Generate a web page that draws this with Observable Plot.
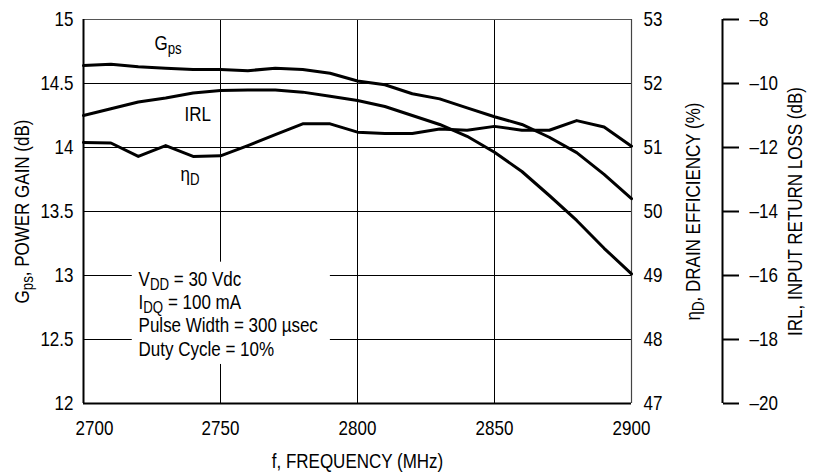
<!DOCTYPE html>
<html><head><meta charset="utf-8">
<script src="https://cdn.jsdelivr.net/npm/d3@7"></script>
<script src="https://cdn.jsdelivr.net/npm/@observablehq/plot@0.6"></script>
<style>
html,body{margin:0;padding:0;background:#fff}
</style>
</head><body><div id="chart"></div>
<script>
// ---- data ----
const freq = [2700,2710,2720,2730,2740,2750,2760,2770,2780,2790,2800,2810,2820,2830,2840,2850,2860,2870,2880,2890,2900];
const gpsDb = [14.64,14.65,14.63,14.62,14.61,14.61,14.60,14.62,14.61,14.58,14.52,14.49,14.42,14.38,14.31,14.24,14.18,14.08,13.96,13.79,13.60];
const irlDb = [-11.0,-10.79,-10.58,-10.45,-10.30,-10.22,-10.20,-10.20,-10.27,-10.40,-10.53,-10.72,-11.0,-11.28,-11.65,-12.15,-12.75,-13.5,-14.28,-15.15,-15.95];
const etaPct = [51.08,51.07,50.86,51.03,50.86,50.87,51.03,51.20,51.37,51.37,51.24,51.22,51.22,51.29,51.27,51.33,51.27,51.27,51.42,51.32,51.02];

const xTicks = [2700,2750,2800,2850,2900];
const gpsTicks = [12,12.5,13,13.5,14,14.5,15];
const etaTicks = [47,48,49,50,51,52,53];
const irlTicks = [-20,-18,-16,-14,-12,-10,-8];

const curveLabels = [
  {text:"G{ps}", f:2725.9, v:14.758},
  {text:"IRL", f:2736.9, v:14.21},
  {text:"η{D}", f:2735.4, v:13.742}
];
const noteLines = ["V{DD} = 30 Vdc","I{DQ} = 100 mA","Pulse Width = 300 µsec","Duty Cycle = 10%"];
const note = {f:2720.1, v:12.375, box:{f1:2717.8, f2:2790.1, v1:12.305, v2:13.104}};

// ---- map secondary axes onto the Gps (left) scale ----
const etaToG = e => 12 + (e - 47) / 2;
const gToEta = g => Math.round(47 + (g - 12) * 2);
const irlToG = r => 12 + (r + 20) / 4;
const gToIrl = g => Math.round(-20 + (g - 12) * 4);

const rows = freq.map((f, i) => ({f, gps: gpsDb[i], eta: etaToG(etaPct[i]), irl: irlToG(irlDb[i])}));

const FONT = "'Liberation Sans',Arial,sans-serif";
const FS = 20;
const NARROW = 0.85;

const chart = Plot.plot({
  width: 818, height: 476,
  marginLeft: 83, marginRight: 187, marginTop: 19, marginBottom: 73,
  x: {domain: [2700, 2900]},
  y: {domain: [12, 15]},
  style: {fontFamily: FONT, fontSize: FS + "px", color: "#000", background: "#fff", overflow: "visible"},
  marks: [
    Plot.gridX(xTicks.slice(1, -1), {stroke: "#000", strokeOpacity: 1, strokeWidth: 1}),
    Plot.gridY(gpsTicks.slice(1, -1), {stroke: "#000", strokeOpacity: 1, strokeWidth: 1}),
    Plot.rect([note.box], {x1: "f1", x2: "f2", y1: "v1", y2: "v2", fill: "#fff"}),
    Plot.ruleY([15], {stroke: "#555", strokeWidth: 1}),
    Plot.ruleX([2900], {stroke: "#444", strokeWidth: 1.2}),
    Plot.ruleX([2700], {stroke: "#000", strokeWidth: 2}),
    Plot.ruleY([12], {stroke: "#000", strokeWidth: 2}),
    Plot.line(rows, {x: "f", y: "gps", stroke: "#000", strokeWidth: 3, strokeLinejoin: "round"}),
    Plot.line(rows, {x: "f", y: "irl", stroke: "#000", strokeWidth: 3, strokeLinejoin: "round"}),
    Plot.line(rows, {x: "f", y: "eta", stroke: "#000", strokeWidth: 3, strokeLinejoin: "round"}),
    // left axis
    Plot.axisY(gpsTicks, {anchor: "left", tickSize: 0, tickPadding: 10, fontSize: FS, label: null, tickFormat: d => String(d)}),
    // bottom axis
    Plot.axisX(xTicks.slice(1), {anchor: "bottom", tickSize: 0, tickPadding: 17, fontSize: FS, label: null, tickFormat: d => String(d)}),
    Plot.text(xTicks.slice(0, 1), {x: d => d, frameAnchor: "bottom", dy: 17, dx: 11, lineAnchor: "top", fontSize: FS, text: d => String(d)}),
    // right eta axis
    Plot.axisY(etaTicks.map(etaToG), {anchor: "right", tickSize: 0, tickPadding: 12, fontSize: FS, label: null, tickFormat: g => String(gToEta(g))}),
    // detached IRL axis
    Plot.ruleX([2900], {y1: 12, y2: 15, dx: 91, stroke: "#000", strokeWidth: 2}),
    Plot.axisY(irlTicks.map(irlToG), {anchor: "right", dx: 91, tickSize: 16, tickPadding: 11, strokeWidth: 2, fontSize: FS, label: null, tickFormat: g => "–" + Math.abs(gToIrl(g))}),
    // axis titles
    Plot.text(["G{ps}, POWER GAIN (dB)"], {frameAnchor: "left", dx: -61, rotate: -90, textAnchor: "middle", fontSize: FS}),
    Plot.text(["η{D}, DRAIN EFFICIENCY (%)"], {frameAnchor: "right", dx: 62, rotate: -90, textAnchor: "middle", fontSize: FS}),
    Plot.text(["IRL, INPUT RETURN LOSS (dB)"], {frameAnchor: "right", dx: 164, rotate: -90, textAnchor: "middle", fontSize: FS}),
    Plot.text(["f, FREQUENCY (MHz)"], {frameAnchor: "bottom", dy: 64, textAnchor: "middle", fontSize: FS}),
    // curve labels
    Plot.text(curveLabels, {x: "f", y: "v", text: "text", textAnchor: "start", lineAnchor: "bottom", fontSize: FS}),
    // conditions note
    Plot.text([noteLines.join("\n")], {x: () => note.f, y: () => note.v, textAnchor: "start", lineAnchor: "bottom", lineHeight: 1.165, fontSize: FS})
  ]
});

// turn {..} into lowered subscripts
const NS = "http://www.w3.org/2000/svg";
d3.select(chart).selectAll("text").each(function () {
  const lines = this.querySelectorAll("tspan").length ? [...this.querySelectorAll("tspan")] : [this];
  lines.forEach(node => {
    const s = node.textContent;
    if (!s.includes("{")) return;
    node.textContent = "";
    let lowered = false;
    for (const p of s.split(/(\{[^}]*\})/)) {
      if (!p) continue;
      const t = document.createElementNS(NS, "tspan");
      if (p.startsWith("{")) {
        t.textContent = p.slice(1, -1);
        t.setAttribute("dy", "4");
        t.setAttribute("font-size", "0.78em");
        lowered = true;
      } else {
        t.textContent = p;
        if (lowered) { t.setAttribute("dy", "-4"); lowered = false; }
      }
      node.appendChild(t);
    }
  });
});

// condensed type like the original (horizontal squeeze about each text's anchor)
d3.select(chart).selectAll("text").each(function () {
  const tr = this.getAttribute("transform");
  if (tr) {
    this.setAttribute("transform", tr + ` scale(${NARROW},1)`);
  } else {
    const x = +(this.getAttribute("x") || 0), y = +(this.getAttribute("y") || 0);
    this.removeAttribute("x"); this.removeAttribute("y");
    this.setAttribute("transform", `translate(${x},${y}) scale(${NARROW},1)`);
  }
});

document.getElementById("chart").appendChild(chart);
</script>
</body></html>
